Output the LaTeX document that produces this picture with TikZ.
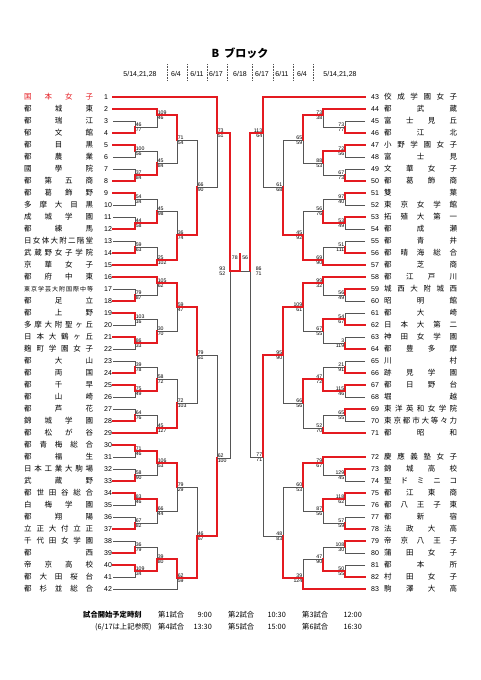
\documentclass[tikz,border=0pt]{standalone}
\usepackage{fontspec}
\setmainfont{Liberation Sans}
\newfontfamily\jp{Noto Sans CJK JP}
\usetikzlibrary{calc}

\definecolor{winred}{RGB}{228,26,32}
\definecolor{losegray}{RGB}{85,85,85}

% 名前を均等割りにする
\def\spreadloop#1#2\spreadend{#1\if\relax\detokenize{#2}\relax\else\hfill\spreadloop#2\spreadend\fi}
\newcommand{\spreadname}[2]{\makebox[#1][s]{\expandafter\spreadloop#2\spreadend}}

% 試合: [得点の側] 上, 下, 列x, 出力y, 名前, 上の得点, 下の得点
\newcommand{\game}[8][west]{%
  \coordinate (#6) at (#4,#5);
  \ifnum#7>#8\relax
    \draw[lose] (#3) -- (#4,0 |- #3) -- (#6);
    \draw[win] (#2) -- (#4,0 |- #2) -- (#6);
  \else
    \draw[lose] (#2) -- (#4,0 |- #2) -- (#6);
    \draw[win] (#3) -- (#4,0 |- #3) -- (#6);
  \fi
  \node[score, anchor=south #1] (#6a) at (#6) {#7};
  \node[score, anchor=north #1] (#6b) at (#6) {#8};}

\begin{document}
\begin{tikzpicture}[x=1pt,y=-1pt,
  win/.style={draw=winred, line width=1.5pt, line cap=rect},
  lose/.style={draw=losegray, line width=0.7pt},
  score/.style={font=\fontsize{5.2}{5.5}\selectfont, inner xsep=0.6pt, inner ysep=0.3pt},
  namel/.style={font=\jp\fontsize{7.5}{8}\selectfont, anchor=west, inner sep=0pt},
  num/.style={font=\fontsize{7}{8}\selectfont, anchor=west, inner sep=0pt},
  team1/.style={text=winred},
  team17/.style={font=\jp\fontsize{6}{7}\selectfont},
  date/.style={font=\fontsize{7}{8}\selectfont},
  sep/.style={draw=losegray, densely dotted, line width=0.6pt},
  foot/.style={font=\jp\fontsize{7.3}{8}\selectfont, inner sep=0pt}]
\useasboundingbox (0,0) rectangle (481,680);

% 見出し
\node[font=\jp\bfseries\fontsize{11}{12}\selectfont] (title) at (240,53) {B\hspace{5pt}ブロック};
\node[date] (dl) at (140,74) {5/14,21,28};
\node[date] (d1) at (176,74) {6/4};
\node[date] (d2) at (197,74) {6/11};
\node[date] (d3) at (216,74) {6/17};
\node[date] (d4) at (240,74) {6/18};
\node[date] (d5) at (262,74) {6/17};
\node[date] (d6) at (282,74) {6/11};
\node[date] (d7) at (302,74) {6/4};
\node[date] (dr) at (340,74) {5/14,21,28};
\foreach \x in {167,187,207,227,252,273,293,313}
  \draw[sep] (\x,64) -- (\x,81);

% 左側のチーム
\foreach \i/\nm in {1/国本女子,2/都城東,3/都瑞江,4/郁文館,5/都目黒,6/都農業,7/國學院,
  8/都第五商,9/都葛飾野,10/多摩大目黒,11/成城学園,12/都練馬,13/日女体大附二階堂,
  14/武蔵野女子学院,15/京華女子,16/都府中東,17/東京学芸大附国際中等,18/都足立,
  19/都上野,20/多摩大附聖ヶ丘,21/日本大鶴ヶ丘,22/麹町学園女子,23/都大山,24/都両国,
  25/都千早,26/都山崎,27/都芦花,28/錦城学園,29/都松が谷,30/都青梅総合,31/都福生,
  32/日本工業大駒場,33/武蔵野,34/都世田谷総合,35/白梅学園,36/都翔陽,37/立正大付立正,
  38/千代田女学園,39/都西,40/帝京高校,41/都大田桜台,42/都杉並総合}{
  \pgfmathsetmacro\yy{97+12*(\i-1)}
  \coordinate (t\i) at (113,\yy);
  \node[num] (k\i) at (104,\yy) {\i};
  \node[namel, team\i/.try] (n\i) at (24,\yy) {\spreadname{69pt}{\nm}};
}

% 右側のチーム
\foreach \i/\nm in {43/佼成学園女子,44/都武蔵,45/富士見丘,46/都江北,47/小野学園女子,
  48/富士見,49/文華女子,50/都葛飾商,51/雙葉,52/東京女学館,53/拓殖大第一,54/都成瀬,
  55/都青井,56/都晴海総合,57/都芝商,58/都江戸川,59/城西大附城西,60/昭明館,61/都大崎,
  62/日本大第二,63/神田女学園,64/都豊多摩,65/川村,66/跡見学園,67/都日野台,68/堀越,
  69/東洋英和女学院,70/東京都市大等々力,71/都昭和,72/慶應義塾女子,73/錦城高校,
  74/聖ドミニコ,75/都江東商,76/都八王子東,77/都新宿,78/法政大高,79/帝京八王子,
  80/蒲田女子,81/都本所,82/村田女子,83/駒澤大高}{
  \pgfmathsetmacro\yy{97+12*(\i-43)+12*(\i>71)}
  \coordinate (t\i) at (365,\yy);
  \node[num] (k\i) at (371,\yy) {\i};
  \node[namel] (n\i) at (384,\yy) {\spreadname{73pt}{\nm}};
}

% 左 1回戦
\game{t3}{t4}{135}{127}{m3}{46}{77}
\game{t5}{t6}{135}{151}{m5}{100}{56}
\game{t7}{t8}{135}{175}{m7}{37}{84}
\game{t9}{t10}{135}{199}{m9}{54}{34}
\game{t11}{t12}{135}{223}{m11}{44}{58}
\game{t13}{t14}{135}{247}{m13}{59}{63}
\game{t17}{t18}{135}{295}{m17}{79}{87}
\game{t19}{t20}{135}{319}{m19}{103}{16}
\game{t21}{t22}{135}{343}{m21}{86}{33}
\game{t23}{t24}{135}{367}{m23}{39}{78}
\game{t25}{t26}{135}{391}{m25}{75}{49}
\game{t27}{t28}{135}{415}{m27}{64}{76}
\game{t30}{t31}{135}{451}{m30}{71}{46}
\game{t32}{t33}{135}{475}{m32}{58}{90}
\game{t34}{t35}{135}{499}{m34}{83}{46}
\game{t36}{t37}{135}{523}{m36}{67}{82}
\game{t38}{t39}{135}{547}{m38}{36}{79}
\game{t40}{t41}{135}{571}{m40}{109}{34}
% 左 2回戦
\game{t2}{m3}{157}{115}{q1}{109}{46}
\game{m5}{m7}{157}{163}{q2}{45}{84}
\game{m9}{m11}{157}{211}{q3}{45}{98}
\game{m13}{t15}{157}{260}{q4}{25}{102}
\game{t16}{m17}{157}{283}{q5}{105}{62}
\game{m19}{m21}{157}{331}{q6}{30}{70}
\game{m23}{m25}{157}{379}{q7}{58}{72}
\game{m27}{t29}{157}{428}{q8}{45}{127}
\game{m30}{m32}{157}{463}{q9}{106}{53}
\game{m34}{m36}{157}{511}{q10}{66}{44}
\game{m38}{m40}{157}{559}{q11}{39}{80}
% 左 3回戦
\game{q1}{q2}{177}{140}{s1}{71}{54}
\game{q3}{q4}{177}{235}{s2}{36}{74}
\game{q5}{q6}{177}{307}{s3}{59}{47}
\game{q7}{q8}{177}{403}{s4}{72}{103}
\game{q9}{q10}{177}{487}{s5}{79}{29}
\game{q11}{t42}{177}{578}{s6}{62}{59}
% 左 4回戦
\game{s1}{s2}{197}{187}{u1}{66}{90}
\game{s3}{s4}{197}{355}{u2}{79}{51}
\game{s5}{s6}{197}{536}{u3}{46}{67}
% 左 5回戦
\game{t1}{u1}{217}{133}{v1}{73}{51}
\game{u2}{u3}{217}{458}{v2}{62}{100}
% 左 準決勝
\game[east,xshift=-4pt]{v1}{v2}{230}{271}{sL}{93}{52}

% 右 1回戦
\game[east]{t45}{t46}{345}{127}{m45}{73}{77}
\game[east]{t47}{t48}{345}{151}{m47}{72}{56}
\game[east]{t49}{t50}{345}{175}{m49}{67}{73}
\game[east]{t51}{t52}{345}{199}{m51}{97}{40}
\game[east]{t53}{t54}{345}{223}{m53}{53}{49}
\game[east]{t55}{t56}{345}{247}{m55}{51}{111}
\game[east]{t59}{t60}{345}{295}{m59}{56}{49}
\game[east]{t61}{t62}{345}{319}{m61}{54}{67}
\game[east]{t63}{t64}{345}{343}{m63}{3}{119}
\game[east]{t65}{t66}{345}{367}{m65}{21}{91}
\game[east]{t67}{t68}{345}{391}{m67}{115}{46}
\game[east]{t69}{t70}{345}{415}{m69}{65}{55}
\game[east]{t73}{t74}{345}{475}{m73}{129}{45}
\game[east]{t75}{t76}{345}{499}{m75}{118}{62}
\game[east]{t77}{t78}{345}{523}{m77}{57}{59}
\game[east]{t79}{t80}{345}{547}{m79}{108}{30}
\game[east]{t81}{t82}{345}{571}{m81}{50}{55}
% 右 2回戦
\game[east]{t44}{m45}{323}{115}{Q1}{73}{38}
\game[east]{m47}{m49}{323}{163}{Q2}{88}{53}
\game[east]{m51}{m53}{323}{211}{Q3}{56}{76}
\game[east]{m55}{t57}{323}{260}{Q4}{69}{90}
\game[east]{t58}{m59}{323}{283}{Q5}{99}{32}
\game[east]{m61}{m63}{323}{331}{Q6}{67}{55}
\game[east]{m65}{m67}{323}{379}{Q7}{47}{72}
\game[east]{m69}{t71}{323}{428}{Q8}{52}{70}
\game[east]{t72}{m73}{323}{463}{Q9}{79}{67}
\game[east]{m75}{m77}{323}{511}{Q10}{87}{56}
\game[east]{m79}{m81}{323}{559}{Q11}{47}{90}
% 右 3回戦
\game[east]{Q1}{Q2}{303}{140}{S1}{65}{59}
\game[east]{Q3}{Q4}{303}{235}{S2}{45}{92}
\game[east]{Q5}{Q6}{303}{307}{S3}{109}{61}
\game[east]{Q7}{Q8}{303}{403}{S4}{66}{56}
\game[east]{Q9}{Q10}{303}{487}{S5}{60}{53}
\game[east]{Q11}{t83}{303}{578}{S6}{39}{124}
% 右 4回戦
\game[east]{S1}{S2}{283}{187}{U1}{61}{68}
\game[east]{S3}{S4}{283}{355}{U2}{95}{90}
\game[east]{S5}{S6}{283}{536}{U3}{48}{83}
% 右 5回戦
\game[east]{t43}{U1}{263}{133}{V1}{113}{64}
\game[east]{U2}{U3}{263}{457}{V2}{77}{71}
% 右 準決勝
\game[west,xshift=5pt]{V1}{V2}{250}{271}{sR}{86}{71}

% 決勝
\coordinate (fin) at (240,271);
\coordinate (champ) at (240,254);
\draw[lose] (sR) -- (fin);
\draw[win] (sL) -- (fin) -- (champ);
\node[score, anchor=east] (fa) at (238.5,258) {78};
\node[score, anchor=west] (fb) at (241.5,258) {56};

% 試合開始予定時刻
\node[foot, font=\jp\bfseries\fontsize{7.3}{8}\selectfont, anchor=west] (ft) at (83,615) {試合開始予定時刻};
\node[foot, anchor=west] (g1) at (158,615) {第1試合};
\node[foot, anchor=east] (h1) at (212,615) {9:00};
\node[foot, anchor=west] (g2) at (228,615) {第2試合};
\node[foot, anchor=east] (h2) at (286,615) {10:30};
\node[foot, anchor=west] (g3) at (302,615) {第3試合};
\node[foot, anchor=east] (h3) at (362,615) {12:00};
\node[foot, anchor=west] (fn) at (95,627) {(6/17は上記参照)};
\node[foot, anchor=west] (g4) at (158,627) {第4試合};
\node[foot, anchor=east] (h4) at (212,627) {13:30};
\node[foot, anchor=west] (g5) at (228,627) {第5試合};
\node[foot, anchor=east] (h5) at (286,627) {15:00};
\node[foot, anchor=west] (g6) at (302,627) {第6試合};
\node[foot, anchor=east] (h6) at (362,627) {16:30};
\end{tikzpicture}
\end{document}
